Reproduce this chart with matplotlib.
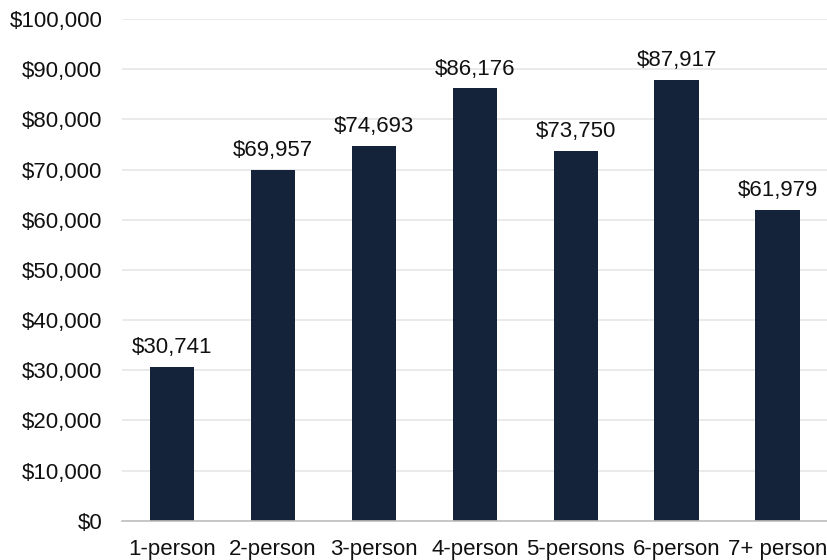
import matplotlib
matplotlib.use("Agg")
import matplotlib.pyplot as plt
from matplotlib.ticker import FuncFormatter

# 数据
categories = ['1-person', '2-person', '3-person', '4-person', '5-persons', '6-person', '7+ person']
values = [30741, 69957, 74693, 86176, 73750, 87917, 61979]
y_ticks = list(range(0, 100001, 10000))

plt.rcParams['font.family'] = ['Liberation Sans', 'DejaVu Sans']

fig = plt.figure(figsize=(8.28, 5.60), dpi=100)
ax = fig.add_axes([0.147, 0.070, 0.853, 0.896])

x = range(len(categories))
ax.bar(x, values, width=0.44, color='#14233a', zorder=3)

for i, v in zip(x, values):
    ax.text(i, v + 1700, f'${v:,}', ha='center', va='bottom', fontsize=16, color='#111111')

ax.set_xlim(-0.5, len(categories) - 0.5)
ax.set_ylim(0, 100000)
ax.set_yticks(y_ticks)
ax.yaxis.set_major_formatter(FuncFormatter(lambda v, p: f'${int(v):,}'))
ax.set_xticks(list(x))
ax.set_xticklabels(categories)
ax.tick_params(axis='both', length=0, labelsize=16, colors='#111111')
ax.tick_params(axis='y', pad=14)
ax.tick_params(axis='x', pad=13)

ax.grid(axis='y', color='#e6e6e6', linewidth=1.2, zorder=0)
for s in ['top', 'right', 'left']:
    ax.spines[s].set_visible(False)
ax.spines['bottom'].set_color('#bfbfbf')
ax.spines['bottom'].set_linewidth(1.2)
ax.spines['bottom'].set_zorder(4)

fig.savefig('out.png', dpi=100)
